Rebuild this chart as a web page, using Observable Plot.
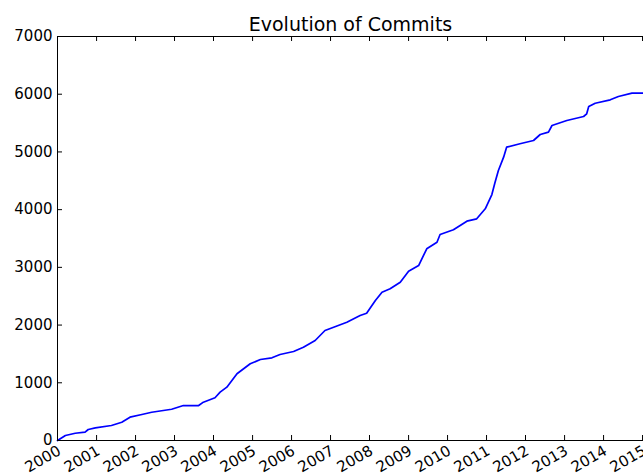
<!DOCTYPE html>
<html><head><meta charset="utf-8">
<script src="https://cdn.jsdelivr.net/npm/d3@7"></script>
<script src="https://cdn.jsdelivr.net/npm/@observablehq/plot@0.6"></script>
<style>body{margin:0;background:#fff;}</style>
</head><body><div id="chart"></div>
<script>
const title = "Evolution of Commits";
const dates = ["2000-01-01","2000-03-15","2000-06-15","2000-09-15","2000-10-15","2000-12-20",
"2001-05-20","2001-08-25","2001-11-10","2002-03-01","2002-06-01","2002-12-05",
"2003-03-25","2003-08-15","2003-09-28","2004-01-15","2004-03-03","2004-05-05",
"2004-08-08","2004-12-10","2005-03-15","2005-07-01","2005-09-15","2006-01-20",
"2006-04-22","2006-08-10","2006-11-10","2007-01-30","2007-06-03","2007-10-05",
"2007-12-05","2008-02-25","2008-04-27","2008-07-12","2008-10-15","2009-01-01",
"2009-04-05","2009-06-20","2009-09-24","2009-10-23","2010-02-25","2010-07-01",
"2010-10-01","2010-12-20","2011-02-20","2011-03-20","2011-04-22","2011-06-10",
"2011-07-08","2011-11-10","2012-03-16","2012-05-18","2012-08-03","2012-09-05",
"2013-01-22","2013-06-28","2013-07-27","2013-08-15","2013-10-15","2014-03-05",
"2014-05-20","2014-09-24","2015-01-07"];
const commits = [0,87,126,144,191,220,
260,317,404,450,490,542,
606,606,664,740,837,924,
1156,1329,1403,1433,1490,1542,
1617,1733,1906,1963,2050,2166,
2206,2426,2570,2628,2743,2933,
3032,3322,3436,3569,3651,3800,
3841,4015,4262,4462,4678,4909,
5082,5141,5198,5302,5342,5458,
5545,5614,5661,5787,5844,5903,
5960,6018,6018];
const yearTicks = [2000,2001,2002,2003,2004,2005,2006,2007,2008,2009,2010,2011,2012,2013,2014,2015];
const yTicks = [0,1000,2000,3000,4000,5000,6000,7000];

const data = dates.map((d, i) => ({date: new Date(d), commits: commits[i]}));
const yearDates = yearTicks.map(y => new Date(Date.UTC(y, 0, 1)));

const W = 643, H = 476, mL = 57, mR = 0, mT = 36, mB = 36;
const plotW = W - mL - mR, plotH = H - mT - mB, tick = 5;

const chart = Plot.plot({
  width: W, height: H,
  marginLeft: mL, marginRight: mR, marginTop: mT, marginBottom: mB,
  style: {fontFamily: "DejaVu Sans", fontSize: "15px", color: "black", background: "white"},
  x: {type: "utc", domain: [new Date("2000-01-01"), new Date("2015-01-10")], label: null},
  y: {domain: [0, 7000], label: null},
  marks: [
    Plot.line(data, {x: "date", y: "commits", stroke: "#0000ff", strokeWidth: 1.7}),
    Plot.frame({stroke: "black", strokeWidth: 1}),
    Plot.tickX(yearDates, {x: d => d, insetTop: plotH - tick, stroke: "black"}),
    Plot.tickX(yearDates, {x: d => d, insetBottom: plotH - tick, stroke: "black"}),
    Plot.tickY(yTicks, {y: d => d, insetRight: plotW - tick, stroke: "black"}),
    Plot.axisY({ticks: yTicks, tickSize: 0, tickPadding: 5, fontSize: 15, tickFormat: d3.format("d"), label: null}),
    Plot.axisX({ticks: yearDates, tickSize: 0, tickPadding: 9, dx: 2, tickRotate: -30, fontSize: 15, tickFormat: d3.utcFormat("%Y"), label: null}),
    Plot.text([title], {frameAnchor: "top", lineAnchor: "bottom", dy: -6, fontSize: 19, fill: "black"})
  ]
});
document.getElementById("chart").appendChild(chart);
</script>
</body></html>
